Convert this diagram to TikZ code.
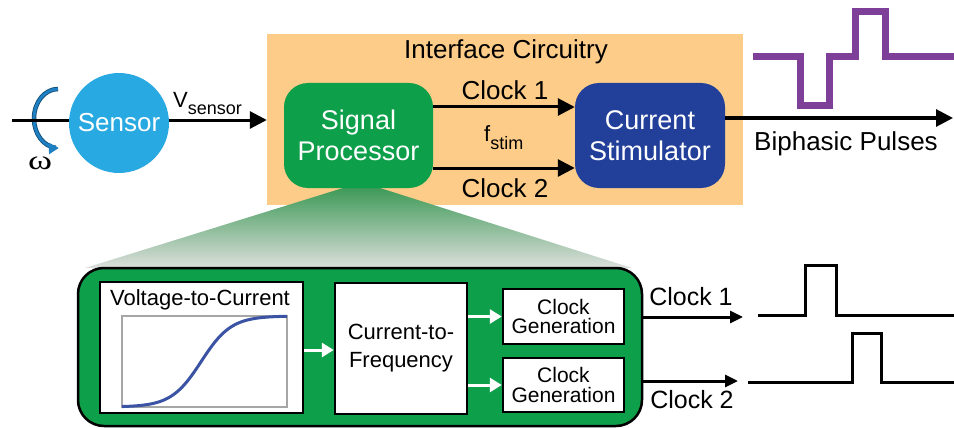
\documentclass[tikz,border=0pt]{standalone}
\usepackage{fontspec}
\setmainfont{Liberation Sans}
\newfontfamily\greekfont{Liberation Serif}
\usetikzlibrary{arrows.meta}

\definecolor{ifaceorange}{HTML}{FDCC88}
\definecolor{procgreen}{HTML}{0E9F4B}
\definecolor{stimblue}{HTML}{22409A}
\definecolor{sensorblue}{HTML}{29A9E1}
\definecolor{rotblue}{HTML}{1E80C2}
\definecolor{pulsepurple}{HTML}{7D3F98}
\definecolor{curveblue}{HTML}{3B53A4}
\definecolor{trapgreen}{HTML}{3F9A58}
\definecolor{trapgray}{HTML}{DCDFDC}

\begin{document}
\begin{tikzpicture}[x=1pt, y=-1pt,
    sig/.style={line width=3pt, -{Triangle[length=17pt,width=17pt]}},
    sigsmall/.style={line width=3pt, -{Triangle[length=13pt,width=12pt]}},
    wsig/.style={white, line width=3pt, -{Triangle[length=12pt,width=14pt]}},
    bigtxt/.style={font=\fontsize{26}{30}\selectfont},
    boxtxt/.style={text=white, align=center, font=\fontsize{27}{31}\selectfont},
    whitebox/.style={draw=black, fill=white, line width=2.5pt, align=center, inner sep=0pt},
    pulse/.style={line width=3pt}]

    \useasboundingbox (0,0) rectangle (954,428);

    \coordinate (inL) at (12,120);
    \coordinate (outR) at (953,118);
    \coordinate (clkAend) at (743,317);
    \coordinate (clkBend) at (738,381);

    \node[fill=ifaceorange, minimum width=476pt, minimum height=171pt, inner sep=0pt] (iface) at (505,119.5) {};
    \node[bigtxt] (ifacelbl) at (506,52) {Interface Circuitry};

    \shade[top color=trapgreen, bottom color=trapgray] (343,188) -- (380,188) -- (632,268) -- (85,268) -- cycle;

    \draw[rotblue!60!black, line width=4.5pt] (58,89) arc[start angle=90, end angle=265, x radius=24pt, y radius=29.5pt];
    \draw[rotblue, line width=2.8pt, -{Triangle[length=10pt,width=11pt]}] (58,89) arc[start angle=90, end angle=272, x radius=24pt, y radius=29.5pt];
    \node (omega) at (40,163) {\scalebox{1.35}[1]{\greekfont\fontsize{27}{27}\selectfont ω}};

    \draw[sig] (inL) -- (iface.west |- inL);
    \node[circle, fill=sensorblue, minimum size=100pt, inner sep=0pt, text=white, bigtxt] (sensor) at (119,123) {Sensor};
    \node[anchor=base west, inner sep=0pt, font=\fontsize{22}{22}\selectfont] (vsensor) at (173,107) {V\raisebox{-7pt}{\fontsize{18}{18}\selectfont sensor}};

    \node[fill=procgreen, rounded corners=24pt, minimum width=149pt, minimum height=105pt, boxtxt] (proc) at (358.5,135.5) {Signal\\Processor};
    \node[fill=stimblue, rounded corners=24pt, minimum width=150pt, minimum height=105pt, boxtxt] (stim) at (650,135.5) {Current\\Stimulator};

    \draw[sig] (proc.east |- 0,107) -- (stim.west |- 0,107);
    \draw[sig] (proc.east |- 0,168) -- (stim.west |- 0,168);
    \node[bigtxt] (clkAlbl) at (505,90) {Clock 1};
    \node[anchor=base west, inner sep=0pt, font=\fontsize{22}{22}\selectfont] (fstim) at (484,142) {f\raisebox{-7pt}{\fontsize{18}{18}\selectfont stim}};
    \node[bigtxt] (clkBlbl) at (505,188) {Clock 2};

    \draw[sig] (stim.east |- outR) -- (outR);
    \draw[pulsepurple, line width=7pt] (753,57) -- (800,57) -- (800,106) -- (829,106) -- (829,57) -- (855,57) -- (855,12) -- (885,12) -- (885,57) -- (954,57);
    \node[bigtxt] (biphlbl) at (846,144) {Biphasic Pulses};

    \node[fill=procgreen, draw=black, line width=2.5pt, rounded corners=26pt, minimum width=564pt, minimum height=158pt] (bigproc) at (360,347) {};

    \node[whitebox, minimum width=203pt, minimum height=131pt] (v2i) at (201.5,347.5) {};
    \node[font=\fontsize{22}{22}\selectfont] (v2ilbl) at (200,300) {Voltage-to-Current};
    \draw[gray!70, line width=1.2pt] (122,316) rectangle (287,407);
    \draw[curveblue, line width=3pt] plot[domain=0:1, samples=80, smooth] ({122+165*\x}, {407-91/(1+exp(-11*(\x-0.48)))});

    \node[whitebox, minimum width=132pt, minimum height=131pt, font=\fontsize{22}{28}\selectfont] (i2f) at (401,348.5) {Current-to-\\Frequency};
    \node[whitebox, minimum width=121pt, minimum height=55pt, font=\fontsize{21}{19.5}\selectfont] (clkgenA) at (563.5,316.5) {Clock\\Generation};
    \node[whitebox, minimum width=121pt, minimum height=54pt, font=\fontsize{21}{19.5}\selectfont] (clkgenB) at (563.5,385) {Clock\\Generation};

    \draw[wsig] (v2i.east |- 0,350) -- (i2f.west |- 0,350);
    \draw[wsig] (i2f.east |- clkgenA.west) -- (clkgenA.west);
    \draw[wsig] (i2f.east |- clkgenB.west) -- (clkgenB.west);

    \draw[sigsmall] (bigproc.east |- clkAend) -- (clkAend);
    \draw[sigsmall] (bigproc.east |- clkBend) -- (clkBend);
    \node[font=\fontsize{25}{25}\selectfont] (outAlbl) at (691,297) {Clock 1};
    \node[font=\fontsize{25}{25}\selectfont] (outBlbl) at (692,400) {Clock 2};

    \draw[pulse] (758,315) -- (805,315) -- (805,265) -- (836,265) -- (836,315) -- (954,315);
    \draw[pulse] (748,382) -- (852,382) -- (852,333) -- (881,333) -- (881,382) -- (954,382);
\end{tikzpicture}
\end{document}
